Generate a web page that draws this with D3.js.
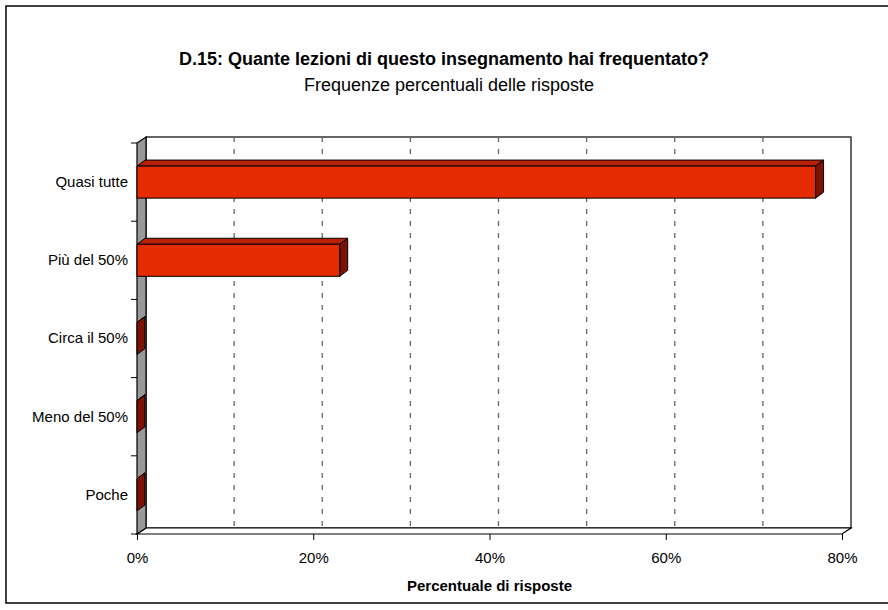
<!DOCTYPE html>
<html>
<head>
<meta charset="utf-8">
<script src="https://cdn.jsdelivr.net/npm/d3@7"></script>
<style>
  body { margin: 0; background: #fff; }
  svg text { font-family: "Liberation Sans", Arial, sans-serif; fill: #000; }
</style>
</head>
<body>
<div class="bar-chart"></div>
<script>
const categories = ["Quasi tutte", "Più del 50%", "Circa il 50%", "Meno del 50%", "Poche"];
const values = [77, 23, 0, 0, 0];
const xTicks = [0, 20, 40, 60, 80];
const gridTicks = [10, 20, 30, 40, 50, 60, 70];

const titleText = "D.15: Quante lezioni di questo insegnamento hai frequentato?";
const subtitleText = "Frequenze percentuali delle risposte";
const xTitle = "Percentuale di risposte";

function main(){
    const W = 888, H = 610;
    const svg = d3.select(".bar-chart")
                  .append("svg")
                  .attr("width", W)
                  .attr("height", H);

    // outer frame (right side runs off the picture)
    svg.append("rect")
        .attr("x", 6).attr("y", 6)
        .attr("width", 900).attr("height", 597)
        .attr("fill", "none")
        .attr("stroke", "#000")
        .attr("stroke-width", 1.5);

    // plot box, front plane
    const left = 137, right = 842, top = 143, bottom = 534;
    const dx = 9, dy = 6;      // depth of walls
    const bdx = 8, bdy = 6;    // depth of bars

    let xScale = d3.scaleLinear().domain([0, 80]).range([left, right]);
    let yScale = d3.scaleBand()
                   .domain(categories)
                   .range([top, bottom])
                   .paddingInner(0.59)
                   .paddingOuter(0.295);

    const poly = pts => pts.map(p => p.join(",")).join(" ");

    // back wall
    svg.append("rect")
        .attr("x", left + dx).attr("y", top - dy)
        .attr("width", right - left).attr("height", bottom - top)
        .attr("fill", "#fff")
        .attr("stroke", "#000")
        .attr("stroke-width", 1.2);

    // gridlines on back wall
    svg.selectAll(".grid")
        .data(gridTicks)
        .enter()
        .append("line")
        .attr("class", "grid")
        .attr("x1", d => xScale(d) + dx)
        .attr("x2", d => xScale(d) + dx)
        .attr("y1", top - dy)
        .attr("y2", bottom - dy)
        .attr("stroke", "#666")
        .attr("stroke-width", 1.3)
        .attr("stroke-dasharray", "5,7");

    // floor
    svg.append("polygon")
        .attr("points", poly([[left, bottom], [right, bottom], [right + dx, bottom - dy], [left + dx, bottom - dy]]))
        .attr("fill", "#fff")
        .attr("stroke", "#000")
        .attr("stroke-width", 1.2);

    // left wall
    svg.append("polygon")
        .attr("points", poly([[left, top], [left + dx, top - dy], [left + dx, bottom - dy], [left, bottom]]))
        .attr("fill", "#999999")
        .attr("stroke", "#000")
        .attr("stroke-width", 1.2);

    // bars
    const bars = svg.selectAll(".bar")
                    .data(categories.map((c, i) => ({cat: c, v: values[i]})))
                    .enter()
                    .append("g")
                    .attr("class", "bar");

    bars.append("polygon") // top face
        .attr("points", d => {
            const x0 = xScale(0), x1 = xScale(d.v), y0 = yScale(d.cat);
            return poly([[x0, y0], [x1, y0], [x1 + bdx, y0 - bdy], [x0 + bdx, y0 - bdy]]);
        })
        .attr("fill", "#b82000")
        .attr("stroke", "#000")
        .attr("stroke-width", 1)
        .attr("stroke-linejoin", "round");

    bars.append("polygon") // side face
        .attr("points", d => {
            const x1 = xScale(d.v), y0 = yScale(d.cat), y1 = y0 + yScale.bandwidth();
            return poly([[x1, y0], [x1 + bdx, y0 - bdy], [x1 + bdx, y1 - bdy], [x1, y1]]);
        })
        .attr("fill", "#7d1200")
        .attr("stroke", "#000")
        .attr("stroke-width", 1)
        .attr("stroke-linejoin", "round");

    bars.filter(d => d.v > 0)
        .append("rect") // front face
        .attr("x", xScale(0))
        .attr("y", d => yScale(d.cat))
        .attr("width", d => xScale(d.v) - xScale(0))
        .attr("height", yScale.bandwidth())
        .attr("fill", "#e52b00")
        .attr("stroke", "#000")
        .attr("stroke-width", 1);

    // y axis: labels at band centres, ticks at band boundaries
    let yAxis = d3.axisLeft(yScale).tickSize(0).tickPadding(9);
    const yg = svg.append("g")
        .attr("class", "axis y-axis")
        .attr("transform", `translate(${left}, 0)`)
        .call(yAxis);
    yg.select(".domain").remove();
    yg.selectAll("text").style("font-size", "15px");

    const step = yScale.step();
    svg.selectAll(".ytick")
        .data(d3.range(categories.length + 1))
        .enter()
        .append("line")
        .attr("class", "ytick")
        .attr("x1", left - 6).attr("x2", left)
        .attr("y1", i => top + i * step)
        .attr("y2", i => top + i * step)
        .attr("stroke", "#000");

    // x axis
    let xAxis = d3.axisBottom(xScale)
                  .tickValues(xTicks)
                  .tickFormat(d => d + "%")
                  .tickSize(6)
                  .tickPadding(12);
    const xg = svg.append("g")
        .attr("class", "axis x-axis")
        .attr("transform", `translate(0, ${bottom})`)
        .call(xAxis);
    xg.select(".domain").remove();
    xg.selectAll("text").style("font-size", "15px");

    // titles
    svg.append("text")
        .attr("x", 444).attr("y", 65)
        .attr("text-anchor", "middle")
        .style("font-size", "18px")
        .style("font-weight", "bold")
        .text(titleText);

    svg.append("text")
        .attr("x", 449).attr("y", 91)
        .attr("text-anchor", "middle")
        .style("font-size", "18px")
        .text(subtitleText);

    svg.append("text")
        .attr("x", (left + right) / 2).attr("y", 591)
        .attr("text-anchor", "middle")
        .style("font-size", "15px")
        .style("font-weight", "bold")
        .text(xTitle);
}

main();
</script>
</body>
</html>
